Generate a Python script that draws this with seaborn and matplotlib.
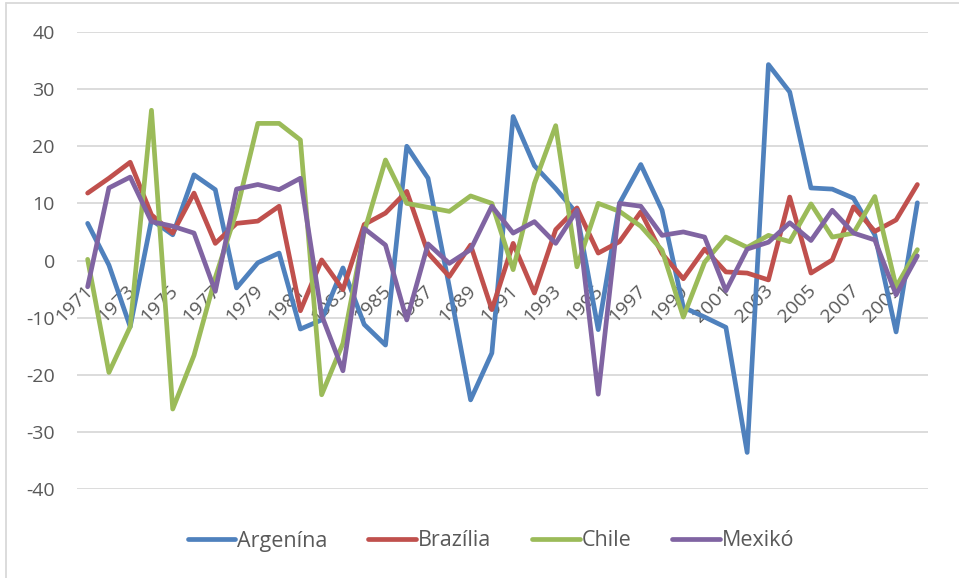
import matplotlib
matplotlib.use("Agg")
import matplotlib.pyplot as plt
from matplotlib.lines import Line2D
import numpy as np
import pandas as pd
import seaborn as sns

years = list(range(1971, 2011))

argentina = [6.5, -0.8, -11.6, 7.1, 4.5, 15.0, 12.4, -4.8, -0.4, 1.3,
             -12.0, -10.4, -1.3, -11.2, -14.8, 20.0, 14.4, -4.6, -24.4, -16.2,
             25.2, 16.6, 12.6, 8.2, -12.1, 10.0, 16.8, 8.8, -8.2, -9.9,
             -11.7, -33.6, 34.3, 29.5, 12.7, 12.5, 10.9, 4.5, -12.5, 10.1]
brazilia = [11.8, 14.4, 17.2, 8.0, 4.8, 11.8, 3.0, 6.5, 6.9, 9.5,
            -8.8, 0.1, -5.1, 6.3, 8.3, 12.1, 1.3, -2.8, 2.7, -8.6,
            3.0, -5.7, 5.4, 9.2, 1.3, 3.3, 8.5, 1.2, -3.2, 2.0,
            -2.0, -2.2, -3.4, 11.1, -2.2, 0.1, 9.4, 5.1, 7.1, 13.3]
chile = [0.2, -19.6, -11.6, 26.3, -26.0, -16.6, -3.0, 8.6, 24.0, 24.0,
         21.1, -23.5, -14.5, 5.0, 17.6, 10.0, 9.3, 8.6, 11.3, 10.0,
         -1.6, 13.5, 23.6, -1.1, 10.0, 8.6, 6.0, 1.8, -9.9, -0.3,
         4.1, 2.3, 4.4, 3.3, 9.9, 4.1, 4.8, 11.2, -4.6, 1.9]
mexiko = [-4.6, 12.7, 14.6, 6.8, 6.0, 4.8, -5.4, 12.5, 13.3, 12.4,
          14.4, -9.6, -19.3, 5.6, 2.7, -10.4, 2.9, -0.5, 1.9, 9.5,
          4.8, 6.8, 3.0, 8.8, -23.4, 10.0, 9.5, 4.4, 5.0, 4.1,
          -5.3, 2.0, 3.2, 6.6, 3.5, 8.8, 4.8, 3.6, -6.0, 0.8]

countries = ["Argenína", "Brazília", "Chile", "Mexikó"]
colors = ["#4F81BD", "#C0504D", "#9BBB59", "#8064A2"]
y_ticks = [-40, -30, -20, -10, 0, 10, 20, 30, 40]

df = pd.DataFrame({
    "idx": list(range(len(years))) * 4,
    "value": argentina + brazilia + chile + mexiko,
    "country": sum([[c] * len(years) for c in countries], []),
})

sns.set_style("white")
plt.rcParams["font.family"] = ["Open Sans", "DejaVu Sans"]
text_color = "#595959"
grid_color = "#D9D9D9"
fs = 14

fig = plt.figure(figsize=(9.59, 5.78), dpi=100)
ax = fig.add_axes([77 / 959, 1 - 489 / 578, 851 / 959, 457 / 578])

sns.lineplot(data=df, x="idx", y="value", hue="country", palette=colors,
             hue_order=countries, linewidth=3.4, legend=False, ax=ax,
             solid_capstyle="round", solid_joinstyle="round", zorder=3)

ax.set_xlim(-0.5, len(years) - 0.5)
ax.set_ylim(-40, 40)
ax.set_yticks(y_ticks)
ax.set_yticklabels([str(t) for t in y_ticks], fontsize=fs, color=text_color)
ax.tick_params(axis="y", length=0, pad=16)
ax.yaxis.grid(True, color=grid_color, linewidth=1.3, zorder=0)
ax.xaxis.grid(False)
ax.set_xticks([])
ax.set_xlabel("")
ax.set_ylabel("")
for s in ax.spines.values():
    s.set_visible(False)

# year labels sit just under the zero line, rotated, beneath the series
for i, yr in enumerate(years):
    if i % 2 == 0:
        ax.annotate(str(yr), xy=(i, 0), xytext=(-3, -15), textcoords="offset points",
                    rotation=45, ha="right", va="top", rotation_mode="anchor",
                    fontsize=fs, color=text_color, zorder=2)

handles = [Line2D([0], [0], color=c, linewidth=3.4, solid_capstyle="round")
           for c in colors]
fig.legend(handles, countries, loc="center", bbox_to_anchor=(0.512, 1 - 541 / 578),
           ncol=4, frameon=False, fontsize=15.5, handlelength=2.2,
           handletextpad=0.1, columnspacing=1.9, labelcolor=text_color)

# outer chart frame
fig.add_artist(Line2D([6 / 959, 6 / 959], [0, 1 - 3 / 578], color=grid_color,
                      linewidth=1.3, transform=fig.transFigure))
fig.add_artist(Line2D([6 / 959, 1], [1 - 3 / 578, 1 - 3 / 578], color=grid_color,
                      linewidth=1.3, transform=fig.transFigure))

fig.savefig("out.png", dpi=100, facecolor="white")
